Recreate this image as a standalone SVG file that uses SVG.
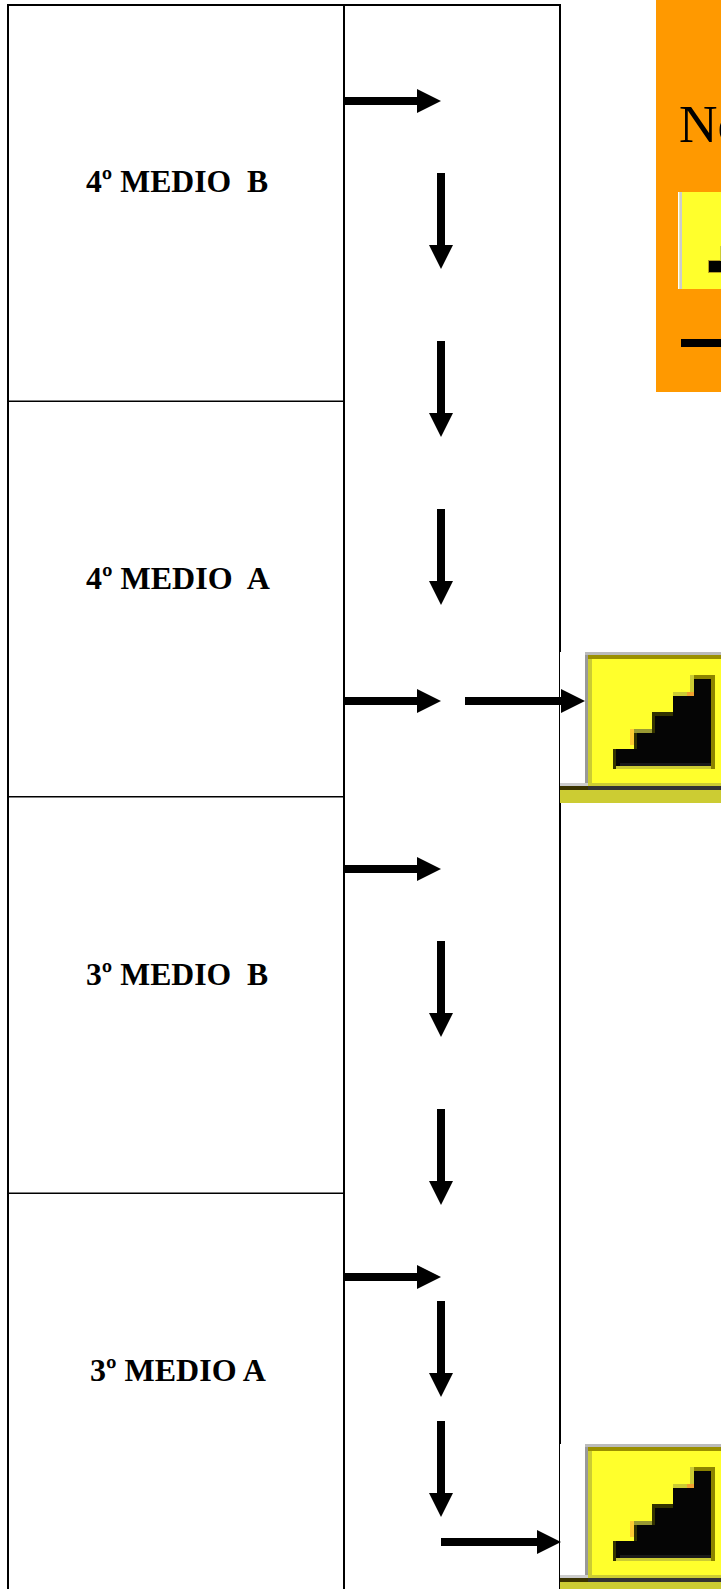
<svg xmlns="http://www.w3.org/2000/svg" width="721" height="1589" viewBox="0 0 721 1589">
<style>
.lbl{font-family:"Liberation Serif","Times New Roman",serif;font-weight:bold;font-size:32px;fill:#000}
.nb{font-size:31.7px}
.arr{stroke:#000;stroke-width:8;fill:none;marker-end:url(#head)}
.y{fill:#ffff2c}.o{fill:#cccc33}.d{fill:#333300}
</style>
<defs>
<marker id="head" markerUnits="userSpaceOnUse" markerWidth="24" markerHeight="24" refX="0" refY="12" orient="auto"><path d="M0 0L24 12L0 24Z" fill="#000"/></marker>
<g id="stairs">
<rect x="560" y="652" width="161" height="131" fill="#fff"/>
<rect x="585" y="652" width="136" height="3" fill="#bbbbbb"/>
<rect x="588" y="655" width="133" height="4" fill="#9b9000"/>
<rect x="585" y="655" width="3" height="128" fill="#999999"/>
<rect x="588" y="659" width="4" height="124" class="o"/>
<rect x="592" y="659" width="129" height="124" class="y"/>
<rect x="560" y="783" width="28" height="3" fill="#cccccc"/>
<rect x="588" y="783" width="133" height="3" class="o"/>
<rect x="560" y="786" width="28" height="4" fill="#3a3300"/>
<rect x="588" y="786" width="133" height="4" fill="#333333"/>
<rect x="560" y="790" width="161" height="13" class="o"/>
<rect x="613" y="766" width="102" height="3" class="o"/>
<rect x="690" y="675" width="4" height="21" class="o"/>
<rect x="673" y="692" width="21" height="4" class="o"/>
<rect x="687" y="692" width="7" height="4" fill="#f0a030"/>
<rect x="694" y="675" width="21" height="4" fill="#8c8400"/>
<rect x="711" y="675" width="4" height="94" fill="#8c8400"/>
<rect x="655" y="712" width="18" height="4" class="d"/>
<rect x="652" y="712" width="3" height="21" class="d"/>
<rect x="634" y="729" width="18" height="4" fill="#999933"/>
<rect x="630" y="729" width="4" height="16" fill="#ffcc33"/>
<rect x="634" y="733" width="3" height="16" class="d"/>
<rect x="613" y="749" width="3" height="20" class="d"/>
<path d="M616 766V749H637V733H655V716H673V696H694V679H711V766Z" fill="#050505"/>
<rect x="620" y="763" width="91" height="3" fill="#1a1a1a"/>
</g>
</defs>
<rect width="721" height="1589" fill="#fff"/>
<g id="table-lines">
<rect x="559" y="4" width="2" height="648" fill="#000"/>
<rect x="559" y="652" width="1" height="151" fill="#000"/>
<rect x="559" y="803" width="2" height="641" fill="#000"/>
<rect x="559" y="1444" width="1" height="145" fill="#000"/>
<rect x="7" y="4" width="554" height="2" fill="#000"/>
<rect x="7" y="4" width="2" height="1585" fill="#000"/>
<rect x="343" y="4" width="2" height="1585" fill="#000"/>
</g>
<g id="node-4b"><rect x="8" y="400.5" width="336" height="1.5" fill="#000"/><text class="lbl nb" x="86" y="192" xml:space="preserve">4º MEDIO  B</text></g>
<g id="node-4a"><rect x="8" y="796" width="336" height="1.5" fill="#000"/><text class="lbl" x="86" y="589" xml:space="preserve">4º MEDIO  A</text></g>
<g id="node-3b"><rect x="8" y="1192.5" width="336" height="1.5" fill="#000"/><text class="lbl nb" x="86" y="985" xml:space="preserve">3º MEDIO  B</text></g>
<g id="node-3a"><text class="lbl" x="90" y="1381" xml:space="preserve">3º MEDIO A</text></g>
<g id="node-orange">
<rect x="656" y="0" width="65" height="392" fill="#ff9900"/>
<text x="679" y="142" font-family="'Liberation Serif','Times New Roman',serif" font-size="53.3px" fill="#000">No</text>
<rect x="678" y="192" width="43" height="97" fill="#ffff2c"/>
<rect x="678" y="192" width="1.5" height="97" fill="#fff"/>
<rect x="679.5" y="192" width="2.5" height="97" fill="#cccccc"/>
<rect x="708" y="260" width="13" height="13" fill="#b8a020"/>
<rect x="709" y="261" width="12" height="11" fill="#000"/>
<rect x="720" y="246" width="1" height="15" fill="#cccc33"/>
<rect x="681" y="339" width="40" height="8" fill="#000"/>
</g>
<g id="node-stairs-1"><use href="#stairs"/></g>
<g id="node-stairs-2"><use href="#stairs" transform="translate(0 792)"/></g>
<g id="connectors">
<path class="arr" d="M345 101H417"/>
<path class="arr" d="M441 173V245"/>
<path class="arr" d="M441 341V413"/>
<path class="arr" d="M441 509V581"/>
<path class="arr" d="M345 701H417"/>
<path class="arr" d="M465 701H561"/>
<path class="arr" d="M345 869H417"/>
<path class="arr" d="M441 941V1013"/>
<path class="arr" d="M441 1109V1181"/>
<path class="arr" d="M345 1277H417"/>
<path class="arr" d="M441 1301V1373"/>
<path class="arr" d="M441 1421V1493"/>
<path class="arr" d="M441 1542H537"/>
</g>
</svg>
